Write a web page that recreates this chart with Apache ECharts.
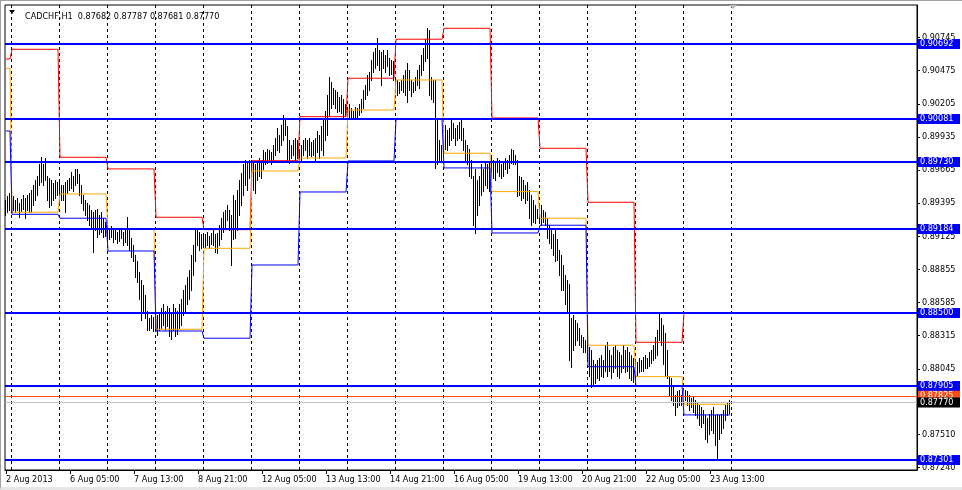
<!DOCTYPE html>
<html><head><meta charset="utf-8">
<script src="https://cdn.jsdelivr.net/npm/echarts@6/dist/echarts.min.js"></script>
<style>
html,body{margin:0;padding:0;background:#fff;overflow:hidden;}
#chart{position:absolute;left:0;top:0;width:962px;height:490px;}
#frame{position:absolute;left:0;top:0;width:962px;height:490px;box-sizing:border-box;border-top:1px solid #a0a0a0;border-left:1px solid #a0a0a0;border-bottom:3px solid #e6e6e6;pointer-events:none;}
</style></head><body>
<div id="chart"></div><div id="frame"></div>
<script>
const symbolTitle = 'CADCHF,H1';
const lastBarOHLC = [0.87682, 0.87787, 0.87681, 0.87770];

const xTickLabels = ['2 Aug 2013','6 Aug 05:00','7 Aug 13:00','8 Aug 21:00','12 Aug 05:00','13 Aug 13:00',
  '14 Aug 21:00','16 Aug 05:00','19 Aug 13:00','20 Aug 21:00','22 Aug 05:00','23 Aug 13:00'];
const yTickValues = [0.87240,0.87510,0.87775,0.88045,0.88315,0.88585,0.88855,0.89125,0.89395,0.89665,0.89935,0.90205,0.90475,0.90745];

// hourly bars per trading day: 2 Aug (from 21:00), 5..9 Aug, 12..16 Aug, 19..23 Aug
const barsPerDay = [3,24,24,24,24,24,24,24,24,24,24,24,24,24,24,24];

const highsWeek1 = [
 0.8942,0.8945,0.8948,
 0.8946,0.8945,0.8942,0.8944,0.8940,0.8943,0.8946,0.8944,0.8946,0.8948,0.8950,0.8954,0.8958,0.8962,0.8971,0.8977,0.8971,0.8976,0.8962,0.8960,0.8958,0.8956,0.8958,0.8957,
 0.8958,0.8954,0.8954,0.8957,0.8958,0.8960,0.8965,0.8962,0.8967,0.8967,0.8963,0.8954,0.8946,0.8942,0.8940,0.8938,0.8934,0.8932,0.8934,0.8935,0.8930,0.8932,0.8927,0.8924,
 0.8922,0.8919,0.8921,0.8918,0.8919,0.8916,0.8918,0.8919,0.8916,0.8918,0.8928,0.8918,0.8911,0.8905,0.8897,0.8892,0.8883,0.8877,0.8873,0.8865,0.8852,0.8846,0.8848,0.8847,
 0.8852,0.8848,0.8851,0.8854,0.8857,0.8852,0.8856,0.8854,0.8851,0.8857,0.8854,0.8852,0.8857,0.8861,0.8869,0.8873,0.8879,0.8885,0.8897,0.8905,0.8918,0.8919,0.8916,0.8914,
 0.8915,0.8914,0.8916,0.8913,0.8915,0.8918,0.8914,0.8915,0.8922,0.8927,0.8932,0.8934,0.8938,0.8934,0.8930,0.8946,0.8942,0.8950,0.8958,0.8964,0.8971,0.8975,0.8973,0.8975
];
const lowsWeek1 = [
 0.8930,0.8932,0.8934,
 0.8932,0.8934,0.8932,0.8934,0.8928,0.8933,0.8935,0.8927,0.8934,0.8932,0.8932,0.8938,0.8942,0.8946,0.8954,0.8957,0.8954,0.8958,0.8942,0.8936,0.8938,0.8942,0.8944,0.8946,
 0.8938,0.8942,0.8942,0.8932,0.8948,0.8950,0.8952,0.8949,0.8954,0.8956,0.8946,0.8940,0.8934,0.8930,0.8926,0.8922,0.8920,0.8900,0.8918,0.8912,0.8914,0.8916,0.8912,0.8913,
 0.8911,0.8910,0.8912,0.8908,0.8910,0.8907,0.8909,0.8911,0.8905,0.8908,0.8905,0.8901,0.8896,0.8892,0.8879,0.8875,0.8861,0.8844,0.8852,0.8846,0.8836,0.8836,0.8838,0.8835,
 0.8835,0.8832,0.8836,0.8838,0.8840,0.8836,0.8839,0.8831,0.8829,0.8836,0.8831,0.8833,0.8838,0.8840,0.8848,0.8852,0.8857,0.8861,0.8869,0.8881,0.8892,0.8905,0.8901,0.8903,
 0.8905,0.8904,0.8905,0.8903,0.8906,0.8905,0.8900,0.8899,0.8905,0.8910,0.8916,0.8919,0.8926,0.8918,0.8889,0.8910,0.8911,0.8918,0.8930,0.8938,0.8946,0.8954,0.8950,0.8960
];
const highsWeek2 = [
 0.8975,0.8972,0.8971,0.8973,0.8976,0.8975,0.8983,0.8981,0.8984,0.8983,0.8981,0.8987,0.8993,0.9001,0.8995,0.9003,0.9011,0.9007,0.9002,0.8991,0.8987,0.8991,0.8993,0.8991,
 0.8983,0.8987,0.8991,0.8993,0.8991,0.8993,0.8989,0.8991,0.8993,0.8998,0.8995,0.9002,0.9007,0.9015,0.9028,0.9042,0.9038,0.9033,0.9032,0.9030,0.9026,0.9028,0.9024,0.9020,
 0.9017,0.9020,0.9017,0.9015,0.9018,0.9017,0.9020,0.9024,0.9032,0.9036,0.9044,0.9046,0.9056,0.9063,0.9066,0.9074,0.9064,0.9063,0.9064,0.9060,0.9064,0.9058,0.9056,0.9055,
 0.9042,0.9040,0.9038,0.9040,0.9044,0.9048,0.9054,0.9048,0.9040,0.9038,0.9042,0.9048,0.9052,0.9060,0.9066,0.9073,0.9082,0.9081,0.9042,0.9040,0.9040,0.9007,0.8991,0.8987,
 0.8999,0.9003,0.8999,0.9001,0.9007,0.9005,0.9001,0.9003,0.9006,0.9009,0.9001,0.8991,0.8987,0.8984,0.8975,0.8962,0.8967,0.8958,0.8962,0.8971,0.8967,0.8972,0.8971,0.8972
];
const lowsWeek2 = [
 0.8954,0.8950,0.8948,0.8958,0.8962,0.8960,0.8967,0.8971,0.8972,0.8975,0.8971,0.8975,0.8979,0.8983,0.8981,0.8987,0.8991,0.8995,0.8975,0.8972,0.8976,0.8979,0.8975,0.8976,
 0.8972,0.8975,0.8979,0.8983,0.8976,0.8979,0.8978,0.8979,0.8975,0.8981,0.8976,0.8983,0.8979,0.8991,0.8995,0.9011,0.9017,0.9020,0.9017,0.9014,0.9015,0.9013,0.9010,0.9011,
 0.9007,0.9009,0.9009,0.9009,0.9010,0.9008,0.9011,0.9014,0.9017,0.9024,0.9028,0.9032,0.9040,0.9046,0.9050,0.9052,0.9048,0.9036,0.9050,0.9046,0.9051,0.9044,0.9045,0.9040,
 0.9030,0.9028,0.9029,0.9032,0.9030,0.9028,0.9022,0.9032,0.9027,0.9030,0.9032,0.9036,0.9033,0.9044,0.9048,0.9055,0.9058,0.9028,0.9024,0.9022,0.8968,0.8971,0.8975,0.8973,
 0.8983,0.8984,0.8983,0.8987,0.8991,0.8993,0.8987,0.8991,0.8993,0.8991,0.8983,0.8975,0.8971,0.8962,0.8960,0.8922,0.8915,0.8930,0.8938,0.8946,0.8949,0.8954,0.8952,0.8949
];
const highsWeek3 = [
 0.8976,0.8975,0.8972,0.8976,0.8975,0.8971,0.8973,0.8976,0.8975,0.8979,0.8984,0.8983,0.8979,0.8975,0.8962,0.8961,0.8958,0.8954,0.8957,0.8950,0.8946,0.8942,0.8938,0.8935,
 0.8940,0.8938,0.8934,0.8932,0.8927,0.8922,0.8918,0.8914,0.8919,0.8910,0.8901,0.8897,0.8889,0.8881,0.8877,0.8874,0.8846,0.8848,0.8844,0.8842,0.8838,0.8832,0.8830,0.8828,
 0.8824,0.8822,0.8820,0.8812,0.8808,0.8812,0.8813,0.8816,0.8812,0.8824,0.8826,0.8820,0.8816,0.8822,0.8824,0.8820,0.8818,0.8816,0.8824,0.8820,0.8822,0.8818,0.8816,0.8813,
 0.8812,0.8810,0.8813,0.8812,0.8814,0.8816,0.8813,0.8818,0.8820,0.8824,0.8830,0.8836,0.8850,0.8846,0.8840,0.8834,0.8820,0.8799,0.8797,0.8791,0.8783,0.8786,0.8787,0.8783,
 0.8789,0.8787,0.8786,0.8783,0.8781,0.8782,0.8779,0.8777,0.8775,0.8773,0.8771,0.8767,0.8764,0.8768,0.8771,0.8773,0.8767,0.8768,0.8767,0.8768,0.8771,0.8775,0.8777,0.87787
];
const lowsWeek3 = [
 0.8954,0.8960,0.8958,0.8965,0.8962,0.8960,0.8962,0.8967,0.8964,0.8968,0.8972,0.8971,0.8971,0.8945,0.8946,0.8942,0.8944,0.8940,0.8942,0.8927,0.8922,0.8924,0.8923,0.8927,
 0.8924,0.8922,0.8924,0.8922,0.8911,0.8907,0.8903,0.8897,0.8892,0.8893,0.8881,0.8869,0.8869,0.8857,0.8852,0.8812,0.8806,0.8820,0.8824,0.8828,0.8824,0.8822,0.8818,0.8818,
 0.8812,0.8799,0.8790,0.8791,0.8793,0.8797,0.8795,0.8799,0.8798,0.8803,0.8799,0.8803,0.8797,0.8802,0.8805,0.8799,0.8797,0.8802,0.8805,0.8802,0.8803,0.8797,0.8795,0.8794,
 0.8797,0.8799,0.8802,0.8803,0.8803,0.8805,0.8805,0.8807,0.8809,0.8812,0.8813,0.8816,0.8828,0.8824,0.8808,0.8799,0.8797,0.8783,0.8779,0.8775,0.8767,0.8773,0.8775,0.8775,
 0.8777,0.8779,0.8775,0.8771,0.8773,0.8769,0.8767,0.8764,0.8759,0.8757,0.8760,0.8747,0.8745,0.8751,0.8755,0.8752,0.8742,0.8732,0.8747,0.8752,0.8756,0.8763,0.8767,0.87681
];

// previous-day levels shown for each day (red = high, orange = close, blue = low)
const prevDayHigh  = [0.90570,0.90649,0.89769,0.89674,0.89280,0.89179,0.89741,0.90100,0.90413,0.90731,0.90820,0.90089,0.89842,0.89402,0.88261,0.88500];
const prevDayClose = [0.90494,0.89321,0.89470,0.89185,0.88367,0.89027,0.89657,0.89763,0.90154,0.90399,0.89802,0.89489,0.89272,0.88237,0.87981,0.87756];
const prevDayLow   = [0.89983,0.89304,0.89272,0.89005,0.88353,0.88294,0.88891,0.89486,0.89739,0.90081,0.89682,0.89152,0.89215,0.88062,0.87907,0.87669];

const levelLines = [0.90692,0.90081,0.89730,0.89184,0.88500,0.87905,0.87301];
const askPrice = 0.87825;
const bidPrice = 0.87770;

// ---------- build ----------
const FONT = "'DejaVu Sans Condensed','Liberation Sans',Arial,sans-serif";
const highs = highsWeek1.concat(highsWeek2, highsWeek3);
const lows = lowsWeek1.concat(lowsWeek2, lowsWeek3);
const SLOTS = 456;          // bar slots across the plot (incl. empty right shift)
const LABEL_EVERY = 32;     // bars between time labels
const dayStart = []; let acc = 0;
barsPerDay.forEach(n => { dayStart.push(acc); acc += n; });
const nBars = acc;
const separators = new Set(dayStart.slice(1).concat([nBars]));
const categories = Array.from({length: SLOTS}, (_, i) =>
  (i % LABEL_EVERY === 0 && i / LABEL_EVERY < xTickLabels.length) ? xTickLabels[i / LABEL_EVERY] : '');
const isLabelIdx = i => i % LABEL_EVERY === 0 && i / LABEL_EVERY < xTickLabels.length;

function stepData(levels) {
  const out = [];
  levels.forEach((v, d) => {
    out.push([dayStart[d], v]);
    out.push([dayStart[d] + barsPerDay[d] - 1, v]);
  });
  return out;
}
function stepSeries(levels, color) {
  return {type: 'line', data: stepData(levels), symbol: 'none', showSymbol: false, z: 3,
    lineStyle: {color: color, width: 1}, animation: false, silent: true};
}
function tagLabel(bg, fg) {
  return {show: true, position: 'end', distance: 1, formatter: p => Number(p.value).toFixed(5),
    color: fg, backgroundColor: bg, padding: [1, 0, 0, 2], width: 40, fontSize: 9, lineHeight: 9,
    fontFamily: FONT};
}

const chart = echarts.init(document.getElementById('chart'), null, {renderer: 'canvas'});
chart.setOption({
  animation: false,
  backgroundColor: '#fff',
  title: {
    text: symbolTitle + '  ' + lastBarOHLC.map(v => v.toFixed(5)).join(' '),
    left: 20, top: 7,
    textStyle: {fontSize: 9, fontWeight: 'normal', color: '#000', fontFamily: FONT}
  },
  grid: {left: 5, right: 45, top: 5, bottom: 20, show: true, borderColor: '#000', borderWidth: 1, backgroundColor: '#fff'},
  xAxis: {
    type: 'category', data: categories, boundaryGap: true,
    axisLine: {show: true, lineStyle: {color: '#000', width: 1}},
    axisTick: {show: true, alignWithLabel: true, interval: (i) => isLabelIdx(i), length: 4, lineStyle: {color: '#000'}},
    axisLabel: {interval: (i) => isLabelIdx(i), align: 'left', margin: 5, fontSize: 9, color: '#000',
      fontFamily: FONT},
    splitLine: {show: true, interval: (i) => separators.has(i), lineStyle: {color: '#000', width: 1, type: [3, 3]}}
  },
  yAxis: {
    type: 'value', position: 'right', min: 0.8722, max: 0.9101, scale: true,
    axisLine: {show: true, lineStyle: {color: '#000', width: 1}},
    axisTick: {show: true, customValues: yTickValues, length: 3, lineStyle: {color: '#000'}},
    axisLabel: {customValues: yTickValues, formatter: v => v.toFixed(5), margin: 5, fontSize: 9,
      color: '#000', fontFamily: FONT},
    splitLine: {show: false}
  },
  series: [
    {
      type: 'custom', z: 2, clip: true, animation: false, silent: true,
      data: highs.map((h, i) => [i, h, lows[i]]),
      encode: {x: 0, y: [1, 2]},
      renderItem: (params, api) => {
        const i = api.value(0);
        const top = api.coord([i, api.value(1)]);
        const bot = api.coord([i, api.value(2)]);
        const x = Math.round(top[0]) - 1;
        const y1 = Math.round(top[1]), y2 = Math.round(bot[1]);
        return {type: 'rect', shape: {x: x, y: y1, width: 1, height: Math.max(1, y2 - y1 + 1)},
          style: {fill: '#000'}};
      },
      markLine: {
        silent: true, symbol: ['none', 'none'], animation: false, z: 10, precision: 5,
        data: levelLines.map(v => ({yAxis: v, lineStyle: {color: '#0000ff', width: 2, type: 'solid'},
            label: tagLabel('#0000ff', '#fff')}))
          .concat([
            {yAxis: askPrice, lineStyle: {color: '#ff4a12', width: 1, type: 'solid'}, label: tagLabel('#ff4a12', '#fff')},
            {yAxis: bidPrice, lineStyle: {color: '#c0c0c0', width: 1, type: 'solid'}, label: tagLabel('#000', '#fff')}
          ])
      }
    },
    stepSeries(prevDayHigh, '#ff0000'),
    stepSeries(prevDayClose, '#ffa500'),
    stepSeries(prevDayLow, '#0000ff')
  ],
  graphic: [
    {type: 'polygon', z: 100, shape: {points: [[9, 10], [15, 10], [12, 14]]}, style: {fill: '#000'}},
    {type: 'polygon', z: 100, shape: {points: [[729, 5], [737, 5], [733, 9]]}, style: {fill: '#bdbdbd'}}
  ]
});
</script>
</body></html>
